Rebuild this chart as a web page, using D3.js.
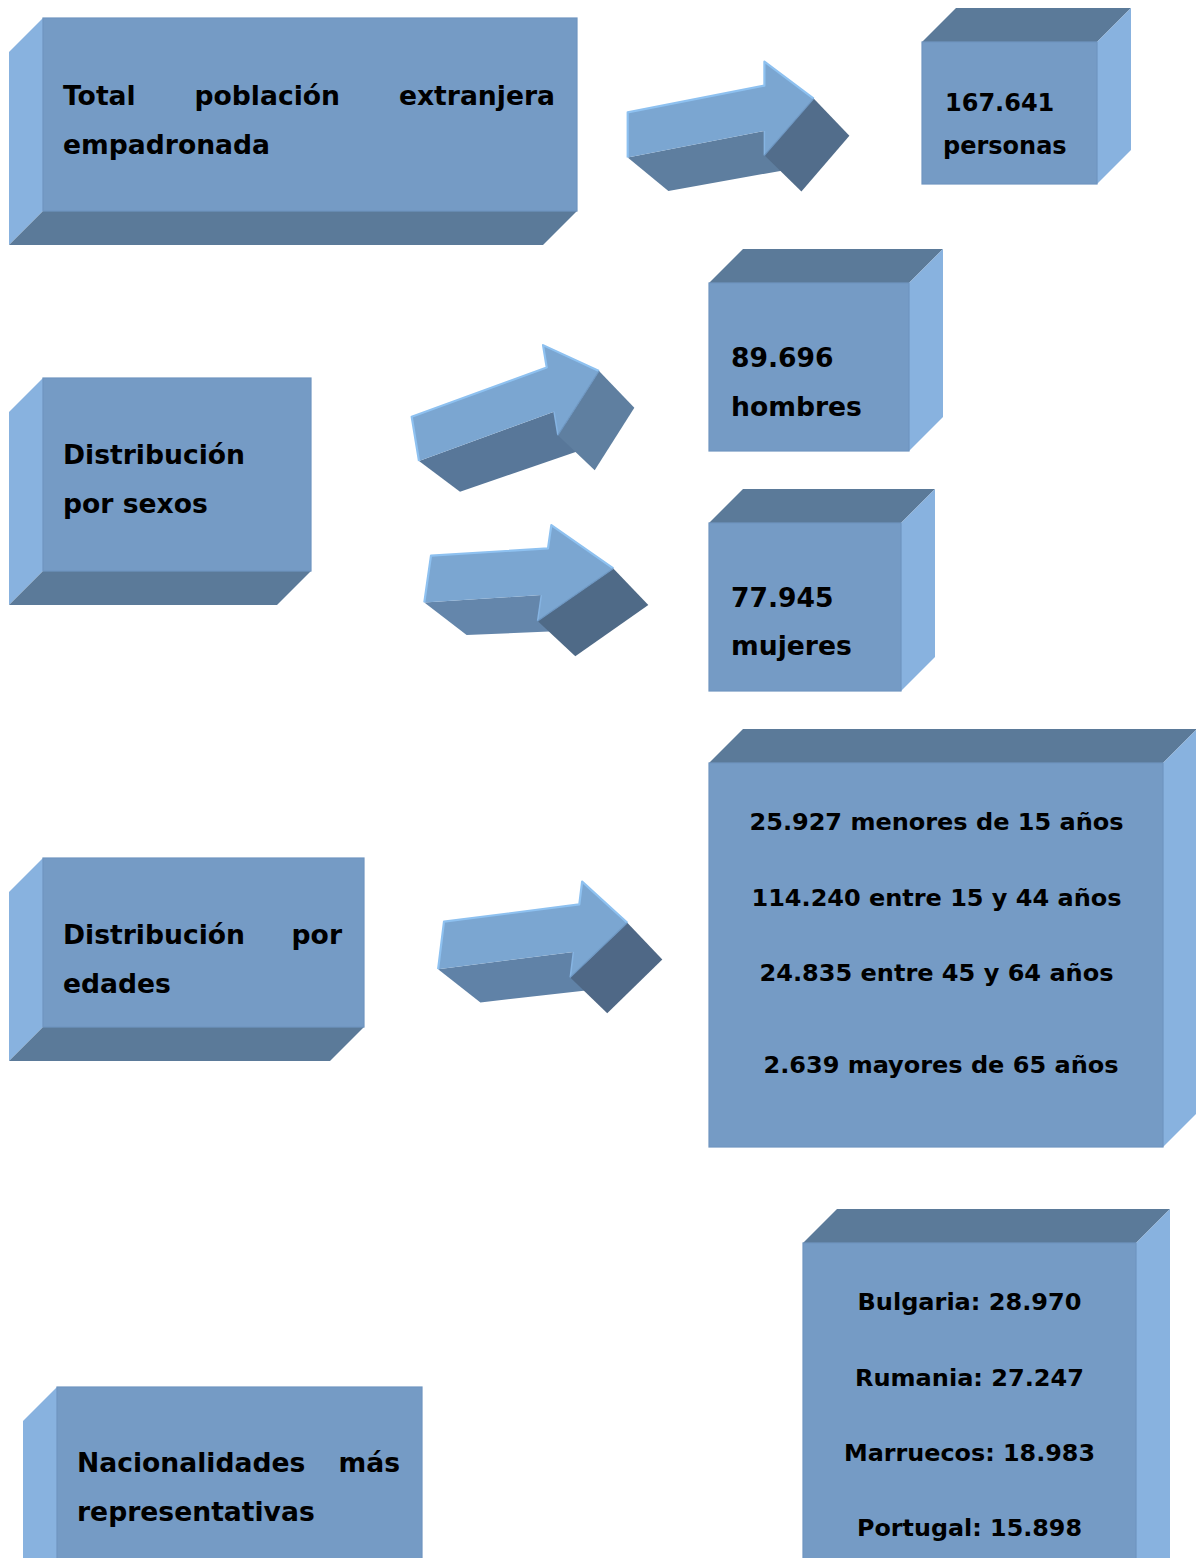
<!DOCTYPE html>
<html><head><meta charset="utf-8">
<script src="https://cdn.jsdelivr.net/npm/d3@7"></script>
<style>html,body{margin:0;padding:0;background:#fff;} svg{display:block;}</style>
</head><body>
<svg id="chart" width="1196" height="1558"></svg>
<script>
// ---------------- DATA ----------------
const headingLines = [
  ["Total población extranjera", "empadronada"],
  ["Distribución", "por sexos"],
  ["Distribución por", "edades"],
  ["Nacionalidades más", "representativas"]
];
const totalPopulation = [167641];
const totalUnit = ["personas"];
const sexLabels = ["hombres", "mujeres"];
const sexValues = [89696, 77945];
const ageLabels = ["menores de 15 años", "entre 15 y 44 años", "entre 45 y 64 años", "mayores de 65 años"];
const ageValues = [25927, 114240, 24835, 2639];
const countries = ["Bulgaria", "Rumania", "Marruecos", "Portugal"];
const countryValues = [28970, 27247, 18983, 15898];

// ---------------- LAYOUT / STYLE ----------------
const es = d3.formatLocale({decimal: ",", thousands: ".", grouping: [3], currency: ["", " €"]});
const fmt = es.format(",d");
const DEPTH = 34;
const COL = {front: "#759BC5", frontEdge: "#6F95C0", side: "#88B2DF", shade: "#5B7A99",
             aLight: "#7BA6D1", aEdge: "#8EC1F0"};
const FONT = "'DejaVu Sans', Verdana, sans-serif";
const HEAD_SIZE = 26.6;

const svg = d3.select("#chart");
const line = d3.line();

function box3d(g, x, y, w, h, dir) {
  const d = DEPTH;
  if (dir === "leftDown") {
    g.append("path").attr("d", line([[x - d, y + d], [x, y], [x, y + h], [x - d, y + h + d]]) + "Z").attr("fill", COL.side);
    g.append("path").attr("d", line([[x - d, y + h + d], [x, y + h], [x + w, y + h], [x + w - d, y + h + d]]) + "Z").attr("fill", COL.shade);
  } else {
    g.append("path").attr("d", line([[x, y], [x + d, y - d], [x + w + d, y - d], [x + w, y]]) + "Z").attr("fill", COL.shade);
    g.append("path").attr("d", line([[x + w, y], [x + w + d, y - d], [x + w + d, y + h - d], [x + w, y + h]]) + "Z").attr("fill", COL.side);
  }
  g.append("rect").attr("x", x).attr("y", y).attr("width", w).attr("height", h)
    .attr("fill", COL.front).attr("stroke", COL.frontEdge).attr("stroke-width", 1.2);
}

function addText(g, str, x, y, size, opts = {}) {
  const t = g.append("text").attr("x", x).attr("y", y).text(str)
    .attr("font-family", opts.family || FONT).attr("font-weight", "bold")
    .attr("font-size", size).attr("fill", "#000")
    .attr("text-anchor", opts.anchor || "start");
  if (opts.width) t.attr("textLength", opts.width).attr("lengthAdjust", "spacingAndGlyphs");
  return t;
}

function justified(g, str, x0, x1, y, size) {
  const words = str.split(" ");
  const nodes = words.map(wd => addText(g, wd, 0, y, size));
  const widths = nodes.map(n => n.node().getComputedTextLength());
  const gap = (x1 - x0 - d3.sum(widths)) / (words.length - 1);
  let cx = x0;
  nodes.forEach((n, i) => { n.attr("x", cx); cx += widths[i] + gap; });
}

// ---------- heading boxes (extruded left/down) ----------
const headBoxes = [
  {x: 43, y: 18, w: 534, h: 193, base: [105, 154], just: [true, false]},
  {x: 43, y: 378, w: 268, h: 193, base: [464, 513], just: [false, false]},
  {x: 43, y: 858, w: 321, h: 169, base: [944, 993], just: [true, false]},
  {x: 57, y: 1387, w: 365, h: 240, base: [1472, 1521], just: [true, false]}
];
headBoxes.forEach((b, i) => {
  const g = svg.append("g").attr("class", "heading");
  box3d(g, b.x, b.y, b.w, b.h, "leftDown");
  headingLines[i].forEach((ln, j) => {
    if (b.just[j]) justified(g, ln, b.x + 20, b.x + b.w - 22, b.base[j], HEAD_SIZE);
    else addText(g, ln, b.x + 20, b.base[j], HEAD_SIZE);
  });
});

// ---------- value boxes (extruded right/up) ----------
const gB = svg.append("g");
box3d(gB, 922, 42, 175, 142, "rightUp");
addText(gB, fmt(totalPopulation[0]), 945, 111, 24);
addText(gB, totalUnit[0], 943, 154, 24);

const sexBoxes = [{x: 709, y: 283, w: 200, h: 168, base: [367, 416]},
                  {x: 709, y: 523, w: 192, h: 168, base: [607, 655]}];
sexBoxes.forEach((b, i) => {
  const g = svg.append("g");
  box3d(g, b.x, b.y, b.w, b.h, "rightUp");
  addText(g, fmt(sexValues[i]), b.x + 22, b.base[0], HEAD_SIZE);
  addText(g, sexLabels[i], b.x + 22, b.base[1], HEAD_SIZE);
});

const gG = svg.append("g");
box3d(gG, 709, 763, 454, 384, "rightUp");
const ageBase = [830, 906, 981, 1073];
const ageCx = [936.5, 936.5, 936.5, 941];
const ageW = [374, 370, 354, 355];
ageValues.forEach((v, i) => {
  addText(gG, fmt(v) + " " + ageLabels[i], ageCx[i], ageBase[i], 23.5,
    {anchor: "middle", width: ageW[i], family: "'DejaVu Sans Condensed', 'DejaVu Sans', sans-serif"});
});

const gI = svg.append("g");
box3d(gI, 803, 1243, 333, 420, "rightUp");
const natBase = [1310, 1386, 1461, 1536];
const natW = [224, 229, 251, 225];
countryValues.forEach((v, i) => {
  addText(gI, countries[i] + ": " + fmt(v), 969.5, natBase[i], 22.5, {anchor: "middle", width: natW[i]});
});

// ---------- 3D block arrows ----------
const arrows = [
  {o: [627.7, 112.3], a: [1, -0.195], b: [0, 1], H: 45.3, s: 136.7, top: -24, bot: 69.7, tip: [186, 22.5],
   eT: [40.7, 33.3], eH: [35.7, 37.3], mid: "#5E7E9F", dark: "#526D8B"},
  {o: [411.7, 416.7], a: [1, -0.365], b: [0.165, 1], H: 44.3, s: 135, top: -22.3, bot: 67.8, tip: [183.8, 21.4],
   eT: [41, 30.7], eH: [35.3, 36.7], mid: "#587799", dark: "#5F7FA0"},
  {o: [431, 555.7], a: [1, -0.0625], b: [-0.143, 1], H: 46.7, s: 117, top: -23.3, bot: 72.7, tip: [185.8, 24.3],
   eT: [42.3, 32.7], eH: [35, 36.7], mid: "#6486AB", dark: "#4F6A87"},
  {o: [444, 921.7], a: [1, -0.128], b: [-0.124, 1], H: 47.5, s: 135.3, top: -22.7, bot: 73, tip: [186.4, 24.9],
   eT: [42.3, 33.3], eH: [35, 36.7], mid: "#6082A7", dark: "#4F6886"}
];
arrows.forEach(A => {
  const P = (lx, ly) => [A.o[0] + lx * A.a[0] + ly * A.b[0], A.o[1] + lx * A.a[1] + ly * A.b[1]];
  const E = lx => { const t = lx / A.tip[0]; return [A.eT[0] + (A.eH[0] - A.eT[0]) * t, A.eT[1] + (A.eH[1] - A.eT[1]) * t]; };
  const add = (p, e) => [p[0] + e[0], p[1] + e[1]];
  const tt = P(0, 0), tb = P(0, A.H), st = P(A.s, 0), sb = P(A.s, A.H),
        ht = P(A.s, A.top), hb = P(A.s, A.bot), tp = P(A.tip[0], A.tip[1]);
  const g = svg.append("g").attr("class", "arrow");
  g.append("path").attr("d", line([tb, sb, add(sb, E(A.s)), add(tb, E(0))]) + "Z").attr("fill", A.mid);
  g.append("path").attr("d", line([tp, hb, add(hb, E(A.s)), add(tp, E(A.tip[0]))]) + "Z").attr("fill", A.dark);
  g.append("path").attr("d", line([tt, st, ht, tp, hb, sb, tb]) + "Z").attr("fill", COL.aLight);
  g.append("path").attr("d", line([tb, tt, st, ht, tp])).attr("fill", "none")
    .attr("stroke", COL.aEdge).attr("stroke-width", 2.2).attr("stroke-linejoin", "round");
  g.append("path").attr("d", line([sb, hb])).attr("fill", "none")
    .attr("stroke", "#86B4E2").attr("stroke-width", 1.5);
  g.append("path").attr("d", line([tp, hb])).attr("fill", "none")
    .attr("stroke", "#6E97C2").attr("stroke-width", 1.2);
});
</script>
</body></html>
